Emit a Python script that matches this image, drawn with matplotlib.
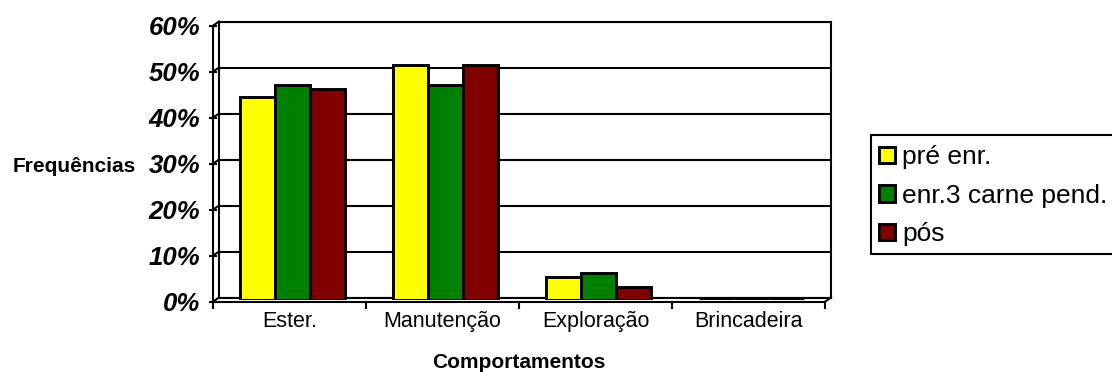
import matplotlib
matplotlib.use("Agg")
import matplotlib.pyplot as plt
from matplotlib.lines import Line2D
from matplotlib.patches import Rectangle
from matplotlib.transforms import IdentityTransform
import numpy as np

# Behaviour frequencies per enrichment phase
categories = ["Ester.", "Manutenção", "Exploração", "Brincadeira"]
series_names = ["pré enr.", "enr.3 carne pend.", "pós"]
pre_enr = [0.44, 0.51, 0.05, 0.0]
enr3_carne = [0.466, 0.466, 0.059, 0.0]
pos_enr = [0.457, 0.51, 0.028, 0.0]
series_colors = ["#FFFF00", "#008000", "#800000"]
y_ticks = [0.0, 0.1, 0.2, 0.3, 0.4, 0.5, 0.6]
y_tick_labels = ["0%", "10%", "20%", "30%", "40%", "50%", "60%"]

plt.rcParams["font.family"] = ["Liberation Sans", "DejaVu Sans"]

W, H = 1112, 372
fig = plt.figure(figsize=(W / 100, H / 100), dpi=100)
fig.patch.set_facecolor("white")


def px_box(left, top, width, height):
    return [left / W, 1 - (top + height) / H, width / W, height / H]


wall_w, wall_h = 612, 276
back = fig.add_axes(px_box(219, 21.5, wall_w, wall_h))
mid = fig.add_axes(px_box(216, 23.7, wall_w, wall_h))
front = fig.add_axes(px_box(213, 25.7, wall_w, wall_h))
n = len(categories)
for ax in (back, mid, front):
    ax.set_xlim(0, n)
    ax.set_ylim(0, 0.6)

LW = 1.5

# back wall with gridlines
back.set_yticks(y_ticks)
back.set_xticks([])
back.yaxis.grid(True, color="black", linewidth=LW)
back.tick_params(length=0, labelleft=False, labelbottom=False)
for s in back.spines.values():
    s.set_linewidth(LW)
back.set_axisbelow(True)

# clustered columns at mid depth
mid.set_axis_off()
mid.patch.set_visible(False)
x = np.arange(n) + 0.5
bw = 0.227
handles = []
for i, (vals, color) in enumerate(zip([pre_enr, enr3_carne, pos_enr], series_colors)):
    bars = mid.bar(x + (i - 1) * bw, vals, width=bw, color=color,
                   edgecolor="black", linewidth=2.1, label=series_names[i])
    handles.append(bars)

# front axes carrying ticks and labels
front.patch.set_visible(False)
front.spines["top"].set_visible(False)
front.spines["right"].set_visible(False)
front.spines["left"].set_linewidth(LW)
front.spines["bottom"].set_linewidth(LW)
front.set_yticks(y_ticks)
front.set_yticklabels(y_tick_labels, fontsize=18.5, fontweight="bold", fontstyle="italic")
front.tick_params(axis="y", direction="inout", length=6, width=LW, pad=6)
front.set_xticks(np.arange(n + 1))
front.set_xticklabels([])
front.tick_params(axis="x", which="major", direction="out", length=5, width=LW)
front.set_xticks(x, minor=True)
front.set_xticklabels(categories, minor=True, fontsize=15.5)
front.tick_params(axis="x", which="minor", length=0, pad=7)
front.set_xlabel("Comportamentos", fontsize=15, fontweight="bold", labelpad=15)
front.set_ylabel("Frequências", fontsize=15, fontweight="bold", rotation=0,
                 ha="left", va="center")
front.yaxis.set_label_coords(-0.328, 0.49)

# depth connectors between the wall and the front axes
for v in y_ticks:
    pb = back.transData.transform((0, v))
    pf = front.transData.transform((0, v))
    fig.add_artist(Line2D([pb[0], pf[0]], [pb[1], pf[1]], color="black",
                          linewidth=LW, transform=IdentityTransform()))
pb = back.transData.transform((n, 0))
pf = front.transData.transform((n, 0))
fig.add_artist(Line2D([pb[0], pf[0]], [pb[1], pf[1]], color="black",
                      linewidth=LW, transform=IdentityTransform()))

# legend box runs off the right edge of the figure
fig.add_artist(Rectangle((871 / W, 1 - 254 / H), 260 / W, 119 / H,
                         transform=fig.transFigure, facecolor="white",
                         edgecolor="black", linewidth=LW, zorder=2))
leg = fig.legend(handles=handles, labels=series_names, loc="upper left",
                 bbox_to_anchor=(874 / W, 1 - 140 / H), borderaxespad=0,
                 fontsize=19, handlelength=0.58, handleheight=0.58,
                 handletextpad=0.3, labelspacing=0.55, borderpad=0.2,
                 frameon=False)
leg.set_zorder(3)

fig.savefig("out.png", dpi=100)
